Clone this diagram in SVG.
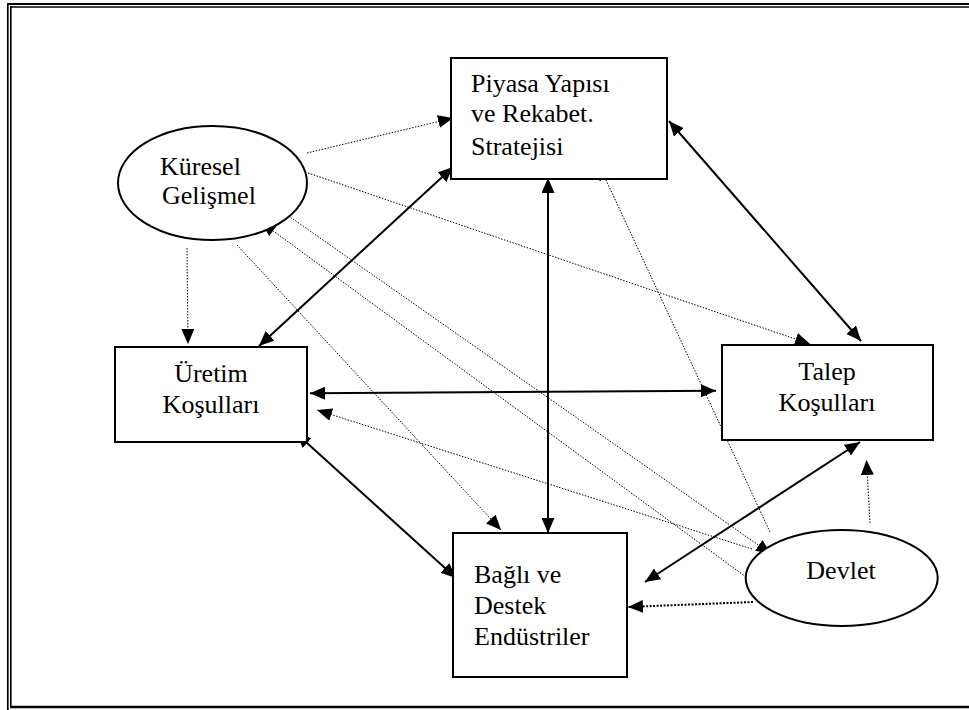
<svg xmlns="http://www.w3.org/2000/svg" width="969" height="710" viewBox="0 0 969 710">
<style>
.frame{stroke:#000;fill:none}
.box{fill:#fff;stroke:#000;stroke-width:2}
.lbl{font-family:"Liberation Serif","Times New Roman",serif;font-size:26px;fill:#000}
.solid{stroke:#000;stroke-width:2;fill:none;marker-start:url(#ah);marker-end:url(#ah)}
.dot{stroke:#000;stroke-width:1;stroke-dasharray:1.5 1.5;fill:none;marker-end:url(#ah)}
.dotb{stroke:#000;stroke-width:2;stroke-dasharray:2 1.5;fill:none;marker-end:url(#ah)}
</style>
<defs>
<marker id="ah" viewBox="0 0 15 13" refX="15" refY="6.5" markerWidth="15" markerHeight="13" markerUnits="userSpaceOnUse" orient="auto-start-reverse">
<path d="M0,0 L15,6.5 L0,13 z" fill="#000"/>
</marker>
</defs>
<rect width="969" height="710" fill="#fff"/>
<g id="frame">
<line class="frame" x1="7" y1="4" x2="969" y2="4" stroke-width="2"/>
<line class="frame" x1="10" y1="7" x2="969" y2="7" stroke-width="1.7"/>
<line class="frame" x1="7.8" y1="3" x2="7.8" y2="710" stroke-width="1.7"/>
<line class="frame" x1="10.8" y1="6" x2="10.8" y2="707" stroke-width="1.7"/>
<line class="frame" x1="10" y1="707" x2="969" y2="707" stroke-width="2.5"/>
</g>
<g id="connectors">
<line class="solid" x1="669" y1="121" x2="861" y2="341"/>
<line class="solid" x1="548" y1="178" x2="548" y2="533"/>
<line class="solid" x1="453" y1="167" x2="259" y2="346"/>
<line class="solid" x1="310" y1="393.3" x2="716" y2="390.7"/>
<line class="solid" x1="296" y1="433" x2="456" y2="578"/>
<line class="solid" x1="860" y1="442" x2="645" y2="582"/>
<line class="dot" x1="307" y1="153" x2="453" y2="118"/>
<line class="dot" x1="308" y1="173" x2="810" y2="344"/>
<line class="dot" x1="187" y1="248" x2="188" y2="344"/>
<line class="dot" x1="237" y1="245" x2="501" y2="530"/>
<line class="dot" x1="746" y1="577" x2="261" y2="222"/>
<line class="dot" x1="283" y1="212" x2="771" y2="554"/>
<line class="dot" x1="752" y1="549" x2="317" y2="410"/>
<line class="dot" x1="770" y1="532" x2="599" y2="165"/>
<line class="dot" x1="870" y1="523" x2="866.5" y2="460"/>
<line class="dotb" x1="753" y1="602" x2="628" y2="607"/>
</g>
<g id="piyasa">
<rect class="box" x="451" y="58" width="216" height="121"/>
<text class="lbl" x="471" y="92">Piyasa Yapısı</text>
<text class="lbl" x="471" y="122">ve Rekabet.</text>
<text class="lbl" x="471" y="155">Stratejisi</text>
</g>
<g id="kuresel">
<ellipse cx="212.5" cy="183" rx="94.5" ry="57" fill="#fff" stroke="#000" stroke-width="2"/>
<text class="lbl" x="160" y="175">Küresel</text>
<text class="lbl" x="162" y="204">Gelişmel</text>
</g>
<g id="uretim">
<rect class="box" x="115" y="347" width="192" height="95"/>
<text class="lbl" x="211" y="382" text-anchor="middle">Üretim</text>
<text class="lbl" x="211" y="413" text-anchor="middle">Koşulları</text>
</g>
<g id="talep">
<rect class="box" x="722" y="345" width="211" height="95"/>
<text class="lbl" x="827" y="380" text-anchor="middle">Talep</text>
<text class="lbl" x="827" y="411" text-anchor="middle">Koşulları</text>
</g>
<g id="bagli">
<rect class="box" x="453" y="533" width="174" height="144"/>
<text class="lbl" x="474" y="583">Bağlı ve</text>
<text class="lbl" x="474" y="614">Destek</text>
<text class="lbl" x="474" y="645">Endüstriler</text>
</g>
<g id="devlet">
<ellipse cx="841.7" cy="578" rx="96" ry="48" fill="#fff" stroke="#000" stroke-width="2"/>
<text class="lbl" x="841" y="579" text-anchor="middle">Devlet</text>
</g>
</svg>
